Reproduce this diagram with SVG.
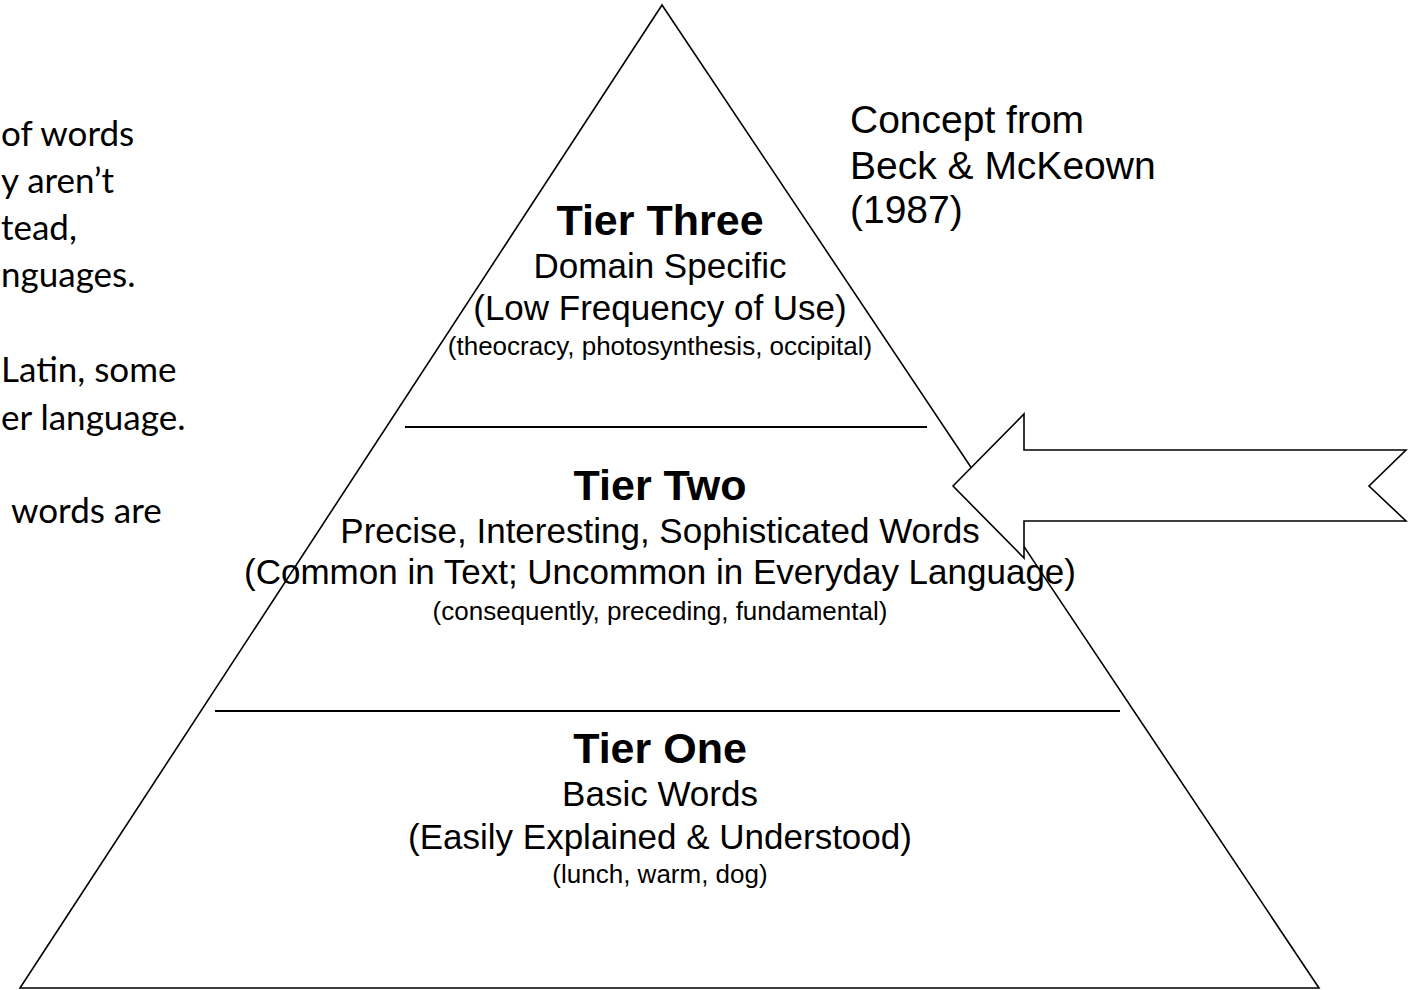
<svg xmlns="http://www.w3.org/2000/svg" width="1416" height="990" viewBox="0 0 1416 990">
  <style>
    .edge { fill: #fff; stroke: #000; stroke-width: 1.6; }
    .div { stroke: #000; stroke-width: 2.2; }
    .t { font-family: "Liberation Sans", Arial, sans-serif; fill: #000; text-anchor: middle; }
    .h { font-size: 43px; font-weight: bold; }
    .m { font-size: 35px; }
    .s { font-size: 26px; }
    .left { font-family: Lato, "Open Sans", sans-serif; font-size: 35px; fill: #000; }
    .cite { font-family: "Liberation Sans", Arial, sans-serif; font-size: 39px; fill: #000; }
  </style>
  <rect width="1416" height="990" fill="#fff"/>

  <g id="left-text">
    <text class="left" x="1" y="146">of words</text>
    <text class="left" x="1" y="193">y aren’t</text>
    <text class="left" x="1" y="240">tead,</text>
    <text class="left" x="1" y="287">nguages.</text>
    <text class="left" x="1" y="382">Latin, some</text>
    <text class="left" x="1" y="430">er language.</text>
    <text class="left" x="11" y="523">words are</text>
  </g>

  <g id="pyramid">
    <polygon class="edge" points="662,5 20,988 1319,988"/>
  </g>

  <g id="connectors">
    <line class="div" x1="405" y1="427" x2="927" y2="427"/>
    <line class="div" x1="215" y1="711" x2="1120" y2="711"/>
  </g>

  <g id="tier-three">
    <text class="t h" x="660" y="235">Tier Three</text>
    <text class="t m" x="660" y="278">Domain Specific</text>
    <text class="t m" x="660" y="320">(Low Frequency of Use)</text>
    <text class="t s" x="660" y="355">(theocracy, photosynthesis, occipital)</text>
  </g>

  <g id="tier-two">
    <text class="t h" x="660" y="500">Tier Two</text>
    <text class="t m" x="660" y="543">Precise, Interesting, Sophisticated Words</text>
    <text class="t m" x="660" y="584">(Common in Text; Uncommon in Everyday Language)</text>
    <text class="t s" x="660" y="620">(consequently, preceding, fundamental)</text>
  </g>

  <g id="tier-one">
    <text class="t h" x="660" y="763">Tier One</text>
    <text class="t m" x="660" y="806">Basic Words</text>
    <text class="t m" x="660" y="849">(Easily Explained &amp; Understood)</text>
    <text class="t s" x="660" y="883">(lunch, warm, dog)</text>
  </g>

  <g id="citation">
    <text class="cite" x="850" y="133">Concept from</text>
    <text class="cite" x="850" y="179">Beck &amp; McKeown</text>
    <text class="cite" x="850" y="223">(1987)</text>
  </g>

  <g id="arrow">
    <polygon class="edge" points="953,486 1024,414 1024,450 1406,450 1369,486 1406,521 1024,521 1024,558"/>
  </g>
</svg>
